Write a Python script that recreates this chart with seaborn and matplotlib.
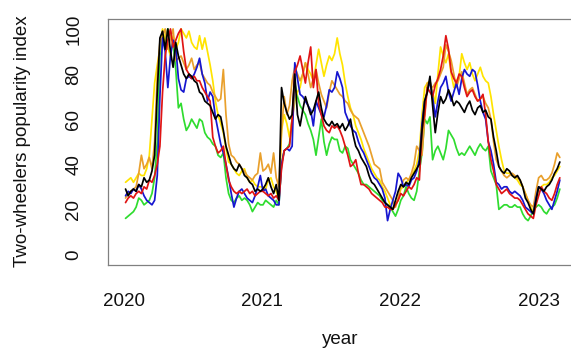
import numpy as np
import pandas as pd
import seaborn as sns
import matplotlib.pyplot as plt

# weekly index values, Jan 2020 - Feb 2023
n_weeks = 165
weeks = pd.date_range('2020-01-05', periods=n_weeks, freq='W')

black = [29, 26, 28, 29, 28, 31, 30, 34, 32, 33,
         37, 44, 72, 96, 99, 91, 100, 90, 83, 94,
         88, 84, 80, 78, 80, 79, 77, 76, 72, 71,
         68, 67, 66, 63, 60, 62, 61, 55, 48, 44,
         40, 38, 37, 40, 38, 35, 34, 32, 31, 28,
         29, 28, 29, 31, 34, 30, 27, 31, 24, 74,
         67, 63, 60, 62, 80, 62, 57, 64, 70, 66,
         62, 64, 68, 72, 65, 60, 58, 57, 59, 57,
         58, 56, 58, 55, 57, 60, 53, 48, 46, 43,
         41, 39, 35, 32, 31, 29, 27, 25, 23, 22,
         21, 20, 24, 28, 31, 30, 32, 31, 34, 36,
         38, 40, 55, 68, 72, 79, 66, 54, 63, 70,
         67, 69, 73, 70, 66, 68, 67, 65, 63, 66,
         68, 64, 62, 65, 66, 63, 64, 61, 60, 52,
         46, 39, 37, 36, 38, 37, 35, 34, 35, 33,
         30, 25, 23, 20, 18, 24, 30, 29, 28, 30,
         31, 33, 36, 38, 41]

red = [23, 25, 26, 25, 27, 28, 27, 30, 29, 33,
       32, 35, 40, 48, 72, 88, 95, 100, 92, 95,
       98, 100, 90, 82, 80, 78, 79, 77, 77, 74,
       72, 70, 68, 52, 48, 45, 46, 48, 40, 33,
       30, 28, 27, 28, 27, 28, 29, 27, 28, 26,
       27, 28, 28, 27, 26, 27, 25, 26, 24, 38,
       46, 47, 48, 60, 81, 84, 88, 82, 76, 85,
       92, 74, 82, 67, 62, 57, 55, 54, 57, 56,
       57, 55, 52, 48, 44, 39, 40, 42, 36, 31,
       31, 30, 29, 27, 26, 25, 24, 23, 21, 21,
       20, 20, 22, 24, 27, 26, 28, 30, 29, 31,
       34, 33, 55, 62, 74, 72, 70, 75, 78, 82,
       88, 97, 91, 81, 78, 76, 80, 79, 74, 70,
       72, 73, 70, 68, 69, 71, 62, 50, 42, 37,
       31, 29, 27, 28, 29, 27, 26, 25, 25, 24,
       22, 20, 18, 17, 16, 22, 26, 30, 28, 27,
       25, 24, 27, 31, 34]

blue = [26, 28, 27, 29, 28, 31, 29, 26, 24, 23,
        22, 24, 35, 70, 96, 90, 74, 88, 95, 92,
        78, 73, 72, 78, 79, 78, 80, 83, 87, 80,
        76, 68, 72, 70, 61, 55, 49, 45, 40, 34,
        27, 21, 25, 28, 29, 27, 25, 24, 23, 26,
        30, 35, 28, 29, 26, 25, 24, 22, 22, 40,
        46, 47, 46, 48, 85, 78, 71, 70, 68, 66,
        64, 57, 68, 65, 62, 61, 66, 73, 72, 74,
        81, 78, 74, 63, 60, 57, 55, 54, 50, 47,
        45, 42, 39, 36, 34, 33, 31, 29, 25, 15,
        20, 24, 28, 36, 34, 30, 31, 30, 33, 34,
        37, 42, 58, 68, 72, 77, 70, 61, 68, 74,
        76, 79, 72, 68, 72, 76, 71, 78, 82, 80,
        79, 82, 81, 75, 68, 63, 60, 50, 46, 40,
        32, 31, 29, 30, 30, 28, 27, 28, 27, 26,
        24, 21, 20, 19, 18, 25, 30, 29, 27, 24,
        22, 20, 24, 28, 33]

green = [16, 17, 18, 19, 21, 25, 24, 22, 23, 24,
         27, 34, 50, 88, 99, 95, 100, 97, 94, 82,
         65, 67, 60, 55, 57, 60, 58, 56, 60, 59,
         54, 52, 51, 49, 48, 44, 43, 45, 34, 27,
         24, 23, 25, 26, 24, 25, 24, 22, 19, 21,
         23, 22, 22, 24, 23, 22, 21, 24, 22, 40,
         46, 47, 49, 60, 76, 70, 66, 64, 62, 58,
         55, 51, 44, 52, 60, 50, 44, 49, 52, 51,
         51, 46, 45, 48, 47, 42, 40, 38, 36, 33,
         31, 31, 30, 29, 28, 27, 26, 24, 23, 22,
         21, 19, 17, 20, 24, 26, 30, 27, 25, 24,
         28, 37, 45, 60, 58, 61, 42, 46, 48, 45,
         42, 47, 55, 53, 51, 47, 44, 45, 44, 46,
         48, 46, 44, 47, 49, 47, 46, 48, 37, 34,
         31, 20, 21, 22, 22, 21, 21, 22, 21, 21,
         18, 16, 15, 17, 20, 21, 22, 21, 19, 18,
         20, 21, 22, 25, 29]

yellow = [32, 33, 34, 32, 34, 36, 35, 35, 38, 44,
          60, 76, 84, 91, 100, 95, 92, 88, 97, 91,
          94, 100, 98, 96, 99, 94, 92, 91, 97, 91,
          96, 90, 84, 77, 68, 62, 58, 54, 47, 41,
          40, 38, 36, 35, 37, 38, 34, 32, 33, 31,
          30, 30, 30, 29, 33, 34, 30, 28, 24, 55,
          62, 58, 52, 60, 68, 72, 74, 80, 85, 82,
          80, 77, 84, 91, 85, 79, 84, 88, 86, 89,
          96, 89, 84, 76, 70, 65, 62, 57, 54, 51,
          47, 44, 41, 38, 36, 34, 33, 30, 28, 25,
          22, 20, 22, 24, 29, 30, 32, 33, 35, 37,
          40, 46, 62, 74, 76, 77, 72, 67, 80, 92,
          88, 85, 89, 80, 74, 77, 79, 89, 85, 82,
          85, 80, 77, 80, 83, 79, 77, 76, 70, 62,
          55, 48, 42, 37, 36, 36, 35, 34, 33, 31,
          30, 27, 24, 21, 19, 24, 29, 30, 31, 31,
          32, 34, 35, 37, 39]

orange = [25, 27, 28, 29, 30, 36, 44, 38, 40, 43,
          38, 50, 80, 94, 97, 100, 91, 96, 100, 86,
          87, 88, 85, 82, 84, 87, 82, 84, 85, 80,
          78, 76, 75, 72, 70, 68, 69, 82, 62, 49,
          44, 43, 41, 40, 38, 37, 35, 34, 33, 35,
          36, 45, 37, 38, 40, 36, 45, 34, 30, 55,
          70, 62, 66, 77, 83, 80, 77, 80, 85, 80,
          74, 78, 82, 76, 71, 68, 65, 72, 77, 75,
          73, 71, 70, 68, 67, 64, 62, 61, 60, 57,
          54, 51, 48, 44, 40, 39, 38, 32, 30, 28,
          26, 24, 21, 25, 30, 33, 34, 33, 36, 40,
          48, 46, 44, 60, 76, 75, 74, 76, 77, 80,
          83, 93, 90, 86, 80, 74, 78, 81, 76, 71,
          73, 74, 71, 68, 69, 70, 67, 65, 60, 50,
          42, 39, 37, 35, 34, 35, 36, 35, 34, 33,
          30, 27, 24, 22, 21, 28, 34, 35, 33, 33,
          34, 36, 40, 45, 43]

series_names = ['green', 'yellow', 'orange', 'blue', 'red', 'black']
series_values = [green, yellow, orange, blue, red, black]
line_colors = ['#2fdc2f', '#ffe400', '#e9a02c', '#1616d0', '#e01414', '#000000']
year_ticks = [2020, 2021, 2022, 2023]
y_ticks = [0, 20, 40, 60, 80, 100]

# decimal year for each week
year = weeks.year + (weeks.dayofyear - 1) / np.where(weeks.is_leap_year, 366, 365)

df = pd.DataFrame({
    'year': np.tile(year, len(series_names)),
    'value': np.concatenate(series_values),
    'series': np.repeat(series_names, n_weeks),
})

sns.set_style('white')
plt.rcParams['font.family'] = ['Liberation Sans', 'DejaVu Sans']

fig = plt.figure(figsize=(5.71, 3.49), dpi=100)
# plot box runs off the right edge of the picture, as in the original
ax = fig.add_axes([108 / 571, 84.4 / 349, 500 / 571, 245.6 / 349])

sns.lineplot(data=df, x='year', y='value', hue='series', hue_order=series_names,
             palette=dict(zip(series_names, line_colors)), estimator=None,
             legend=False, linewidth=1.25, ax=ax)

ax.set_xlim(2019.884, 2019.884 + 500 / 138.2)
ax.set_ylim(-4.5, 104.4)
ax.set_xticks(year_ticks)
ax.set_yticks(y_ticks)
ax.set_xlabel('')
ax.set_ylabel('')
for s in ax.spines.values():
    s.set_visible(True)
    s.set_color('#808080')
    s.set_linewidth(0.9)

ax.tick_params(axis='both', direction='out', length=8.6, width=0.8,
               color='#333333', labelsize=13.5, labelcolor='#111111')
ax.tick_params(axis='x', pad=12)
ax.tick_params(axis='y', pad=10)
for lab in ax.get_yticklabels():
    lab.set_rotation(90)
    lab.set_va('center')

fig.text(23 / 571, 1 - 141 / 349, 'Two-wheelers popularity index', rotation=90,
         ha='center', va='center', fontsize=13.5, color='#111111')
fig.text(340 / 571, 1 - 340 / 349, 'year', ha='center', va='center',
         fontsize=13.5, color='#111111')

fig.savefig('out.png', dpi=100)
